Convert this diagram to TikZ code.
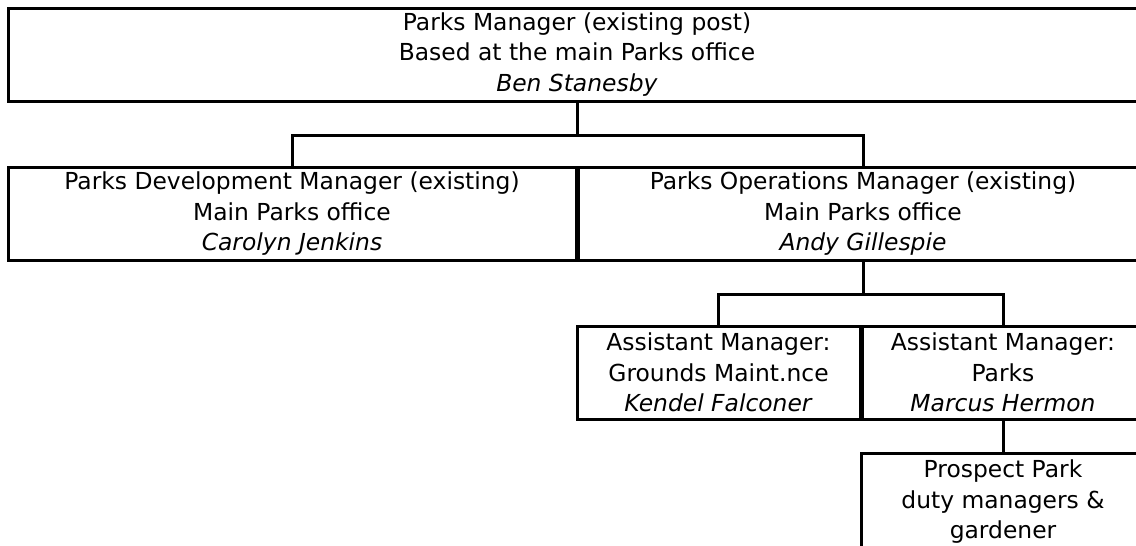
\documentclass[tikz,border=0pt]{standalone}
\usepackage{fontspec}
\setmainfont{DejaVu Sans}
\usetikzlibrary{positioning,calc}

\begin{document}
\begin{tikzpicture}[x=1pt,y=-1pt,
    post/.style={draw, line width=3pt, align=center, inner sep=0pt,
      font=\fontsize{23.4}{30.5}\selectfont, minimum height=93pt}]
    \useasboundingbox (0,0) rectangle (1136,546);
    \clip (0,0) rectangle (1136,546);
    \node[post, minimum width=1138pt] (parksmgr) at (577,54.5)
        {Parks Manager (existing post)\\Based at the main Parks office\\\textit{Ben Stanesby}};
    \node[post, minimum width=568pt] (devmgr) at (292,214)
        {Parks Development Manager (existing)\\Main Parks office\\\textit{Carolyn Jenkins}};
    \node[post, minimum width=570pt] (opsmgr) at (863,214)
        {Parks Operations Manager (existing)\\Main Parks office\\\textit{Andy Gillespie}};
    \node[post, minimum width=283pt] (groundsmgr) at (718.5,372.5)
        {Assistant Manager:\\Grounds Maint.nce\\\textit{Kendel Falconer}};
    \node[post, minimum width=282pt] (parksasst) at (1003,372.5)
        {Assistant Manager:\\Parks\\\textit{Marcus Hermon}};
    \node[post, minimum width=284pt, minimum height=0pt, anchor=north,
          text height=85pt, text depth=40pt] (prospect) at (1003,452)
        {Prospect Park\\duty managers \&\\gardener};
    \draw[line width=3pt] (parksmgr.south) -- ++(0,33) coordinate (split1);
    \draw[line width=3pt] (devmgr.north) |- (split1) -| (opsmgr.north);
    \draw[line width=3pt] (opsmgr.south) -- ++(0,32) coordinate (split2);
    \draw[line width=3pt] (groundsmgr.north) |- (split2) -| (parksasst.north);
    \draw[line width=3pt] (parksasst.south) -- (prospect.north);
\end{tikzpicture}
\end{document}
